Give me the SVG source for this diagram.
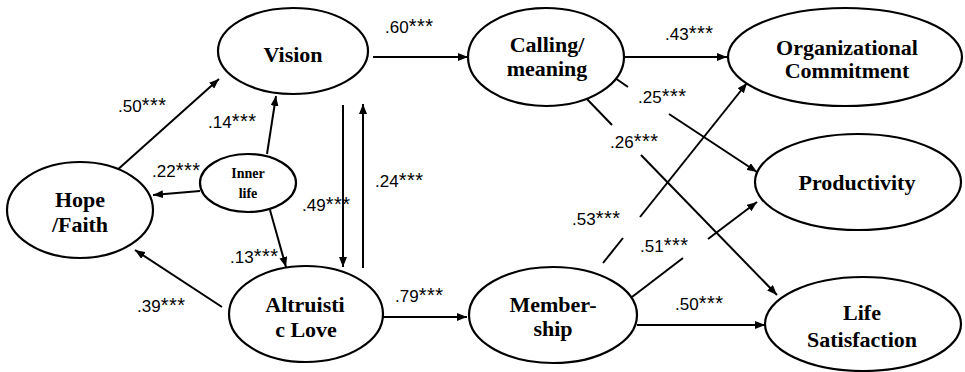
<svg xmlns="http://www.w3.org/2000/svg" width="965" height="372" viewBox="0 0 965 372">
  <style>
    .node ellipse { fill: #ffffff; stroke: #000000; stroke-width: 2.2; }
    .node text { font-family: "Liberation Serif", "Times New Roman", serif; font-weight: bold; font-size: 22px; fill: #000000; text-anchor: middle; }
    .node.small text { font-size: 14px; }
    .edge { stroke: #000000; stroke-width: 2; fill: none; }
    .lbl { font-family: "Liberation Sans", Arial, sans-serif; font-size: 17px; fill: #000000; }
    .lbl tspan { font-size: 20px; letter-spacing: 0.5px; }
  </style>
  <defs>
    <marker id="arrow" markerWidth="10" markerHeight="8" refX="10" refY="4" orient="auto" markerUnits="userSpaceOnUse">
      <path d="M0,0 L10,4 L0,8 z" fill="#000000"/>
    </marker>
  </defs>
  <rect width="965" height="372" fill="#ffffff"/>

  <!-- connectors -->
  <g id="connectors">
    <line class="edge" x1="115" y1="172" x2="219" y2="79" marker-end="url(#arrow)"/>
    <line class="edge" x1="267" y1="154" x2="276" y2="96" marker-end="url(#arrow)"/>
    <line class="edge" x1="200" y1="191" x2="153" y2="195" marker-end="url(#arrow)"/>
    <line class="edge" x1="270" y1="210" x2="286" y2="267" marker-end="url(#arrow)"/>
    <line class="edge" x1="222" y1="307" x2="135" y2="250" marker-end="url(#arrow)"/>
    <line class="edge" x1="343" y1="105" x2="343" y2="267" marker-end="url(#arrow)"/>
    <line class="edge" x1="363" y1="268" x2="363" y2="104" marker-end="url(#arrow)"/>
    <line class="edge" x1="373" y1="57" x2="468" y2="57" marker-end="url(#arrow)"/>
    <line class="edge" x1="625" y1="57" x2="727" y2="57" marker-end="url(#arrow)"/>
    <!-- calling/meaning to productivity, broken around its label -->
    <line class="edge" x1="615" y1="78" x2="628" y2="87"/>
    <line class="edge" x1="669" y1="114" x2="757" y2="172" marker-end="url(#arrow)"/>
    <!-- calling/meaning to life satisfaction -->
    <line class="edge" x1="585" y1="97" x2="612" y2="125"/>
    <line class="edge" x1="641" y1="155" x2="777" y2="295" marker-end="url(#arrow)"/>
    <!-- membership to organizational commitment -->
    <line class="edge" x1="603" y1="263" x2="623" y2="238"/>
    <line class="edge" x1="640" y1="217" x2="747" y2="83" marker-end="url(#arrow)"/>
    <!-- membership to productivity -->
    <line class="edge" x1="632" y1="297" x2="683" y2="258"/>
    <line class="edge" x1="708" y1="239" x2="757" y2="202" marker-end="url(#arrow)"/>
    <line class="edge" x1="637" y1="325" x2="765" y2="325" marker-end="url(#arrow)"/>
    <line class="edge" x1="383" y1="317" x2="467" y2="317" marker-end="url(#arrow)"/>
  </g>

  <!-- path coefficients -->
  <g id="labels">
    <text class="lbl" x="118" y="112">.50<tspan>***</tspan></text>
    <text class="lbl" x="208" y="128">.14<tspan>***</tspan></text>
    <text class="lbl" x="152" y="177">.22<tspan>***</tspan></text>
    <text class="lbl" x="230" y="263">.13<tspan>***</tspan></text>
    <text class="lbl" x="137" y="312">.39<tspan>***</tspan></text>
    <text class="lbl" x="302" y="211">.49<tspan>***</tspan></text>
    <text class="lbl" x="375" y="187">.24<tspan>***</tspan></text>
    <text class="lbl" x="385" y="33">.60<tspan>***</tspan></text>
    <text class="lbl" x="665" y="40">.43<tspan>***</tspan></text>
    <text class="lbl" x="638" y="103">.25<tspan>***</tspan></text>
    <text class="lbl" x="610" y="148">.26<tspan>***</tspan></text>
    <text class="lbl" x="572" y="225">.53<tspan>***</tspan></text>
    <text class="lbl" x="640" y="252">.51<tspan>***</tspan></text>
    <text class="lbl" x="395" y="302">.79<tspan>***</tspan></text>
    <text class="lbl" x="675" y="310">.50<tspan>***</tspan></text>
  </g>

  <!-- constructs -->
  <g id="vision" class="node">
    <ellipse cx="293" cy="51" rx="75" ry="43"/>
    <text x="293" y="62">Vision</text>
  </g>
  <g id="calling" class="node">
    <ellipse cx="546" cy="57" rx="78" ry="49"/>
    <text x="547" y="52">Calling/</text>
    <text x="547" y="76">meaning</text>
  </g>
  <g id="commitment" class="node">
    <ellipse cx="845" cy="57" rx="117" ry="49"/>
    <text x="847" y="55">Organizational</text>
    <text x="847" y="78">Commitment</text>
  </g>
  <g id="productivity" class="node">
    <ellipse cx="858" cy="182" rx="103" ry="48"/>
    <text x="857" y="190">Productivity</text>
  </g>
  <g id="life-satisfaction" class="node">
    <ellipse cx="863" cy="324" rx="98" ry="47"/>
    <text x="862" y="320">Life</text>
    <text x="862" y="347">Satisfaction</text>
  </g>
  <g id="hope-faith" class="node">
    <ellipse cx="80" cy="210" rx="73" ry="48"/>
    <text x="80" y="207">Hope</text>
    <text x="80" y="232">/Faith</text>
  </g>
  <g id="inner-life" class="node small">
    <ellipse cx="248" cy="183" rx="48" ry="29"/>
    <text x="248" y="178">Inner</text>
    <text x="248" y="198">life</text>
  </g>
  <g id="altruistic-love" class="node">
    <ellipse cx="306" cy="314" rx="77" ry="48"/>
    <text x="305" y="312">Altruisti</text>
    <text x="306" y="337">c Love</text>
  </g>
  <g id="membership" class="node">
    <ellipse cx="553" cy="315" rx="84" ry="48"/>
    <text x="553" y="312">Member-</text>
    <text x="553" y="336">ship</text>
  </g>
</svg>
